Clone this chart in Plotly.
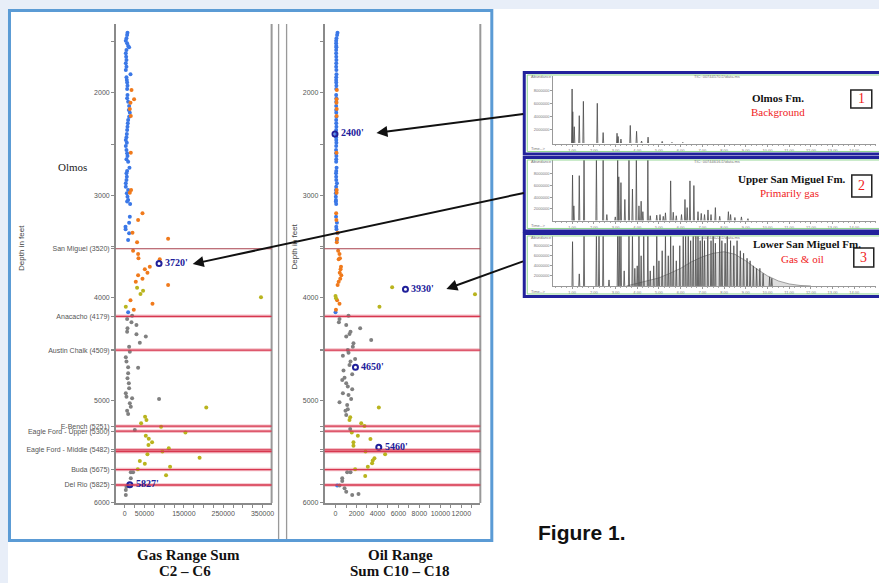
import plotly.graph_objects as go

W, H = 879, 583
# small correction for the slight shrink seen in the captured picture; positions below are reference pixels
SX, SY = 0.998, 0.995
def px(x): return x / SX / W
def py(y): return 1 - y / SY / H

# ---------------- DATA ----------------
# Blue samples (depth ft, gas-range sum C2-C6, oil-range sum C10-C18)
blue_depth = [1412,1434,1467,1490,1516,1542,1555,1581,1613,1646,1678,1711,1743,1776,1818,1847,1873,1899,1929,1961,
              2020,2052,2085,2127,2166,2192,2231,2264,2296,2329,2361,2400,2433,2459,2485,2517,2556,2589,2615,2647,
              2670,2729,2761,2784,2817,2849,2882,2914,2947,2979,3012,3044,3060,3083,3207,3266,3305,3330,3369,3434,
              4140,5831]
blue_gas = [6800,5900,4200,2500,5900,8500,11000,4200,2500,3400,4200,2500,4200,2500,14400,4200,5100,5900,6800,5900,
            6800,5900,8500,11000,10200,12700,11000,8500,7600,6800,5900,5100,4200,2500,5100,2500,4200,5900,6800,4200,
            8500,11800,5900,4200,5100,4200,2500,2500,8500,5100,6800,8500,5900,13500,12700,11000,1700,2000,11000,8400,
            8500,12000]
blue_oil = [190,150,90,60,60,70,80,60,60,70,80,70,60,80,90,70,60,70,80,70,
            60,80,70,60,60,70,80,60,70,80,60,50,60,70,80,60,50,60,80,70,
            60,100,70,50,60,70,130,60,40,30,30,40,30,60,50,130,70,90,180,120,
            0,160]

orange_depth = [1971,2062,2096,2156,2224,2583,2946,2973,3174,3239,3363,3422,3457,3539,3571,3613,3623,3695,3720,3753,
                3779,3812,3841,3873,4022,4056,4114]
orange_gas = [17000,23600,14400,12700,15200,15200,16000,12700,44900,33800,19500,110000,31200,21000,33800,34700,88800,
              63500,50800,57500,33800,44900,27900,110000,14400,70300,22800]
orange_oil = [120,100,90,110,100,90,110,100,60,80,200,150,120,250,380,420,300,520,480,400,
              550,450,300,200,150,380,40]

olive_gas_depth = [3900,3929,3961,3993,4085,5070,5158,5190,5223,5256,5314,5344,5373,5408,5434,5467,5499,5525,5558,
                   5590,5617,5646,5672,5730]
olive_gas = [31200,46400,39800,346000,2500,207000,51500,55000,41400,92100,154000,53300,60900,69300,60100,111700,
             95600,57500,190000,38100,50800,115000,33000,104800]
olive_oil_depth = [3896,3964,3981,4003,4085,5070,5164,5190,5223,5249,5314,5344,5376,5408,5441,5499,5525,5564,5587,
                   5613,5646,5672,5737]
olive_oil = [5400,13300,0,50,4190,4130,1400,1330,2450,2760,1550,2130,3330,1710,1710,2860,4730,3710,3550,3490,3080,
             1870,2830]

gray_gas_depth = [4173,4205,4238,4263,4296,4329,4355,4377,4436,4475,4524,4579,4621,4676,4680,4735,4784,4832,4881,
                  4930,4963,4979,4986,5028,5061,5100,5132,5288,5701,5701,5759,5841,5873,5922]
gray_gas = [18600,5900,16900,29600,6800,5900,29600,53300,38100,11000,12700,2500,4200,8500,33800,8500,6800,10200,
            11000,2500,4200,18600,87000,12700,15200,5900,8500,25400,15200,21000,15200,4200,2500,2500]
gray_oil_depth = [4173,4205,4238,4263,4296,4329,4351,4377,4410,4442,4475,4507,4534,4563,4595,4621,4654,4709,4745,
                  4778,4800,4832,4865,4891,4930,4947,4986,5018,5044,5086,5100,5142,5278,5701,5701,5759,5786,5831,
                  5857,5890,5912,5922]
gray_oil = [1240,380,320,1020,2350,1430,1330,1020,3400,1710,1650,1170,1240,700,1870,1430,1330,760,1590,860,
            640,1020,1170,1590,700,1240,1490,380,1110,1170,950,1020,1400,1110,1430,640,640,380,860,1020,2190,1590]

# highlighted samples
ann_label = ["2400'", "3720'", "3930'", "4650'", "5460'", "5827'"]
ann_plot = ["oil", "gas", "oil", "oil", "oil", "gas"]
ann_depth = [2400, 3665, 3915, 4676, 5457, 5822]
ann_value = [-50, 87000, 6670, 1900, 4125, 12700]

# formation tops
form_names = ["San Miguel (3520)", "Anacacho (4179)", "Austin Chalk (4509)", "E-Bench (5251)",
              "Eagle Ford - Upper (5300)", "Eagle Ford - Middle (5482)", "Eagle Ford - Lower (5500)",
              "Buda (5675)", "Del Rio (5825)"]
form_depth = [3520, 4179, 4509, 5251, 5300, 5482, 5500, 5675, 5825]

depth_ticks = [1500, 2000, 2500, 3000, 3500, 4000, 4500, 5000, 5500, 6000]
gas_ticks = [0, 50000, 150000, 250000, 350000]
oil_ticks = [0, 2000, 4000, 6000, 8000, 10000, 12000]

# chromatograms (retention time in min, abundance in millions)
c1_t = [1.00,1.03,1.10,1.33,1.52,2.16,2.43,3.07,3.12,3.25,3.68,3.97,4.20,4.50,5.15,5.60,6.10]
c1_h = [8.3,4.8,2.5,4.2,6.4,6.1,1.6,1.5,1.0,0.6,2.7,1.8,0.3,0.9,0.25,0.1,0.1]
c2_t = [1.02,1.08,1.33,1.55,2.12,2.43,2.60,2.99,3.10,3.15,3.25,3.43,3.62,3.78,3.96,4.08,4.18,4.26,4.49,4.60,
        4.90,5.05,5.20,5.30,5.54,5.66,5.80,6.04,6.20,6.30,6.43,6.61,6.80,6.95,7.10,7.26,7.40,7.60,7.80,8.20,
        8.30,8.50,8.80,9.10]
c2_h = [7.8,2.5,7.7,10.5,10.5,10.5,1.0,0.6,10.5,7.5,6.5,3.6,10.5,5.4,10.5,2.5,3.3,1.5,10.5,0.8,
        0.9,1.0,0.7,1.3,6.8,1.4,0.8,1.0,3.6,2.2,6.8,6.0,1.5,1.2,1.0,1.8,1.0,2.2,0.7,1.5,
        1.0,0.5,0.6,0.3]
c3_t = [1.02,1.33,1.55,2.12,2.24,2.43,2.70,3.10,3.17,3.25,3.40,3.62,3.78,3.89,4.00,4.08,4.18,4.30,4.49,4.60,
        4.76,4.90,5.00,5.15,5.30,5.43,5.54,5.66,5.80,5.96,6.12,6.23,6.35,6.46,6.58,6.70,6.80,6.90,7.00,7.10,
        7.25,7.40,7.50,7.60,7.80,7.90,8.05,8.15,8.30,8.45,8.60,8.75,8.90,9.06,9.20,9.35,9.50,9.65,9.80,10.10,
        10.20]
c3_h = [8.8,2.4,10.5,10.5,10.5,10.5,1.2,10.5,10.5,10.5,3.0,10.5,10.5,3.5,4.0,10.5,6.0,10.5,10.5,3.0,
        4.0,10.5,5.0,7.0,10.5,6.0,10.5,8.0,5.0,8.0,10.5,10.5,10.5,9.0,10.5,10.5,10.5,9.0,10.5,9.0,
        10.5,9.0,10.5,8.5,10.5,9.0,8.5,10.5,9.0,8.0,9.0,7.0,6.5,5.5,5.0,4.0,3.5,3.5,2.5,1.8,
        1.5]
c3_hump_t = [3.5,4.0,4.5,5.0,5.5,6.0,6.5,7.0,7.5,8.0,8.5,9.0,9.5,10.0,10.5,11.0,11.5,12.0]
c3_hump_h = [0,0.5,1.0,1.6,2.5,3.5,4.8,5.8,6.5,6.8,6.3,5.0,3.4,2.0,1.0,0.4,0.1,0]
chrom_titles = ["Olmos Fm.", "Upper San Miguel Fm.", "Lower San Miguel Fm."]
chrom_sub = ["Background", "Primarily gas", "Gas & oil"]
chrom_files = ["TIC: 00744570.D\\data.ms", "TIC: 00744616.D\\data.ms", "TIC: 00744622.D\\data.ms"]

# ---------------- FIGURE ----------------
BLUE, ORANGE, OLIVE, GRAY = "#3b78e7", "#f07a1c", "#b9b41e", "#808080"
NAVY = "#20209a"
fig = go.Figure()

def pts(xa, ya, xs, ys, color):
    fig.add_trace(go.Scatter(x=xs, y=ys, mode="markers", xaxis=xa, yaxis=ya,
                             marker=dict(color=color, size=4, line=dict(width=0)),
                             showlegend=False, hoverinfo="skip"))

pts("x", "y", blue_gas, blue_depth, BLUE)
pts("x", "y", orange_gas, orange_depth, ORANGE)
pts("x", "y", olive_gas, olive_gas_depth, OLIVE)
pts("x", "y", gray_gas, gray_gas_depth, GRAY)
pts("x2", "y2", blue_oil, blue_depth, BLUE)
pts("x2", "y2", orange_oil, orange_depth, ORANGE)
pts("x2", "y2", olive_oil, olive_oil_depth, OLIVE)
pts("x2", "y2", gray_oil, gray_oil_depth, GRAY)

annotations = []
def note(x, y, text, font, xanchor="center", yanchor="middle", **kw):
    d = dict(x=px(x), y=py(y), xref="paper", yref="paper", text=text, showarrow=False,
             xanchor=xanchor, yanchor=yanchor, font=font)
    d.update(kw)
    annotations.append(d)

for lab, plot, d, v in zip(ann_label, ann_plot, ann_depth, ann_value):
    xa, ya = ("x", "y") if plot == "gas" else ("x2", "y2")
    fig.add_trace(go.Scatter(x=[v], y=[d], mode="markers", xaxis=xa, yaxis=ya,
                             marker=dict(symbol="circle-open", size=5, color=NAVY, line=dict(width=2)),
                             showlegend=False, hoverinfo="skip"))
    annotations.append(dict(x=v, y=d, xref=xa, yref=ya, text="<b>" + lab + "</b>", showarrow=False,
                            xanchor="left", yanchor="middle", xshift=4, yshift=1,
                            font=dict(family="Liberation Serif", size=10, color=NAVY)))

# chromatogram sticks
def sticks(ts, hs, xa, ya):
    xs, ys = [], []
    for t, h in zip(ts, hs):
        xs += [t - 0.025, t, t + 0.025, None]
        ys += [0, h, 0, None]
    fig.add_trace(go.Scatter(x=xs, y=ys, mode="lines", xaxis=xa, yaxis=ya,
                             line=dict(color="#4a4a4a", width=0.8), showlegend=False, hoverinfo="skip"))

fig.add_trace(go.Scatter(x=c3_hump_t, y=c3_hump_h, mode="lines", xaxis="x5", yaxis="y5", fill="tozeroy",
                         fillcolor="rgba(120,120,120,0.25)", line=dict(color="#666", width=0.6),
                         showlegend=False, hoverinfo="skip"))
sticks(c1_t, c1_h, "x3", "y3")
sticks(c2_t, c2_h, "x4", "y4")
sticks(c3_t, c3_h, "x5", "y5")

tickfont = dict(family="Liberation Sans Narrow, Liberation Sans, Arial", size=7, color="#555")
xtickfont = dict(family="Liberation Sans Narrow, Liberation Sans, Arial", size=7, color="#555")
gas_tv = list(range(0, 375000, 25000))
oil_tv = list(range(0, 14000, 1000))
depth_tv = depth_ticks + form_depth
depth_tt_gas = [str(d) if d % 1000 == 0 else "" for d in depth_ticks] + form_names
depth_tt_oil = [str(d) if d % 1000 == 0 else "" for d in depth_ticks] + [""] * len(form_depth)

common_ax = dict(showgrid=False, zeroline=False, showline=True, linecolor="#8a8a8a", linewidth=1.5,
                 ticks="outside", ticklen=3, tickcolor="#8a8a8a")

layout = dict(
    width=W, height=H, margin=dict(l=0, r=0, t=0, b=0),
    paper_bgcolor="white", plot_bgcolor="rgba(0,0,0,0)", showlegend=False,
    xaxis=dict(domain=[px(116), px(272)], range=[-22800, 373000], anchor="y",
               tickmode="array", tickvals=gas_tv, tickangle=0, tickfont=xtickfont,
               ticktext=[str(v) if v in gas_ticks else "" for v in gas_tv], **common_ax),
    yaxis=dict(domain=[py(503), py(24)], range=[6000, 1327], anchor="x", tickfont=tickfont,
               tickmode="array", tickvals=depth_tv, ticktext=depth_tt_gas, **common_ax),
    xaxis2=dict(domain=[px(325), px(481)], range=[-1048, 13810], anchor="y2",
                tickmode="array", tickvals=oil_tv, tickangle=0, tickfont=xtickfont,
                ticktext=[str(v) if v in oil_ticks else "" for v in oil_tv], **common_ax),
    yaxis2=dict(domain=[py(503), py(24)], range=[6000, 1327], anchor="x2", tickfont=tickfont,
                tickmode="array", tickvals=depth_tv, ticktext=depth_tt_oil, **common_ax),
)

chrom_dom = [(76, 144, [-0.15, 10.3]), (160, 221, [-0.1, 10.4]), (236, 286, [0, 9.94])]
tinyfont = dict(family="Liberation Sans", size=4, color="#777")
for i, (top, bot, yr) in enumerate(chrom_dom):
    n = i + 3
    layout["xaxis%d" % n] = dict(domain=[px(554), 1], range=[0.13, 15.0], anchor="y%d" % n,
                                 tickmode="array", tickvals=list(range(1, 15)), tickangle=0,
                                 ticktext=["%d.00" % v for v in range(1, 15)],
                                 showgrid=False, zeroline=False, showline=True, linecolor="#999", linewidth=1,
                                 ticks="outside", ticklen=2, tickcolor="#999", tickfont=tinyfont,
                                 minor=dict(dtick=0.25, ticks="outside", ticklen=1, tickcolor="#aaa"))
    layout["yaxis%d" % n] = dict(domain=[py(bot), py(top)], range=yr, anchor="x%d" % n,
                                 tickmode="array", tickvals=[2, 4, 6, 8],
                                 ticktext=["2000000", "4000000", "6000000", "8000000"],
                                 showgrid=False, zeroline=False, showline=True, linecolor="#999", linewidth=1,
                                 ticks="outside", ticklen=2, tickcolor="#999", tickfont=tinyfont)

shapes = []
def rect(x0, y0, x1, y1, **kw):
    d = dict(type="rect", xref="paper", yref="paper", x0=px(x0), x1=px(x1), y0=py(y1), y1=py(y0))
    d.update(kw)
    shapes.append(d)
def vline(x, y0, y1, color, width):
    shapes.append(dict(type="line", xref="paper", yref="paper", x0=px(x), x1=px(x), y0=py(y1), y1=py(y0),
                       line=dict(color=color, width=width)))

rect(0, -5, W + 10, 9, fillcolor="#e8eef8", line=dict(width=0), layer="below")
rect(-5, -5, 8, H + 10, fillcolor="#e8eef8", line=dict(width=0), layer="below")
rect(9.5, 10.5, 492.5, 540.5, fillcolor="white", line=dict(color="#5b9bd5", width=3), layer="below")
vline(272, 24, 503, "#999", 2)
vline(279, 24, 539, "#999", 1.3)
vline(287, 24, 539, "#999", 1.3)
vline(481, 24, 503, "#999", 2)

for name, d in zip(form_names, form_depth):
    for xr, yr in (("x domain", "y"), ("x2 domain", "y2")):
        if d == 3520:
            shapes.append(dict(type="line", xref=xr, yref=yr, x0=0, x1=1, y0=d, y1=d,
                               line=dict(color="#a8404c", width=1)))
        else:
            shapes.append(dict(type="line", xref=xr, yref=yr, x0=0, x1=1, y0=d, y1=d,
                               line=dict(color="rgba(235,140,155,0.55)", width=3.5), layer="below"))
            shapes.append(dict(type="line", xref=xr, yref=yr, x0=0, x1=1, y0=d, y1=d,
                               line=dict(color="#d7374f", width=1.3)))

panels = [(72.5, 154), (157.5, 231), (233.5, 296.5)]
boxes = [(852, 90, 873, 108), (853, 175, 873, 197), (855, 248, 875, 267)]
titles_y = [(98, 112), (179, 193), (244, 259)]
titles_x = [(779, 779), (793, 791), (808, 804)]
for i, (y0, y1) in enumerate(panels):
    rect(525, y0, 890, y1, line=dict(color="#22229c", width=3))
    rect(528, y0 + 2.5, 890, y1 - 2.5, line=dict(color="#8fd48f", width=1))
    bx0, by0, bx1, by1 = boxes[i]
    rect(bx0, by0, bx1, by1, line=dict(color="#222", width=1.5), fillcolor="white")
    note(titles_x[i][0], titles_y[i][0], "<b>" + chrom_titles[i] + "</b>",
         dict(family="Liberation Serif", size=11, color="#111"))
    note(titles_x[i][1], titles_y[i][1], chrom_sub[i],
         dict(family="Liberation Serif", size=11, color="#f01c1c"))
    note((bx0 + bx1) / 2, (by0 + by1) / 2, str(i + 1),
         dict(family="Liberation Serif", size=14, color="#f01c1c"))
    note(530, y0 + 4, "Abundance", tinyfont, xanchor="left")
    note(718, y0 + 4, chrom_files[i], tinyfont)
    note(530, y1 - 5, "Time-->", tinyfont, xanchor="left")

# arrows: (head x, head y, tail x, tail y) in pixels
arrows = [(377, 133, 525, 114), (193, 264, 525, 193), (447, 289, 525, 261)]
for hx, hy, tx, ty in arrows:
    annotations.append(dict(x=px(hx), y=py(hy), xref="paper", yref="paper", text="", showarrow=True,
                            ax=(tx - hx) / SX, ay=(ty - hy) / SY, arrowhead=2, arrowsize=1.1, arrowwidth=2,
                            arrowcolor="#111", standoff=0))

note(22, 248, "Depth in feet", dict(family="Liberation Sans", size=8, color="#444"), textangle=-90)
note(295, 247, "Depth in feet", dict(family="Liberation Sans", size=8, color="#444"), textangle=-90)
note(73, 167, "Olmos", dict(family="Liberation Serif", size=11, color="#222"))
capfont = dict(family="Liberation Serif", size=15, color="#111")
note(189, 555, "<b>Gas Range Sum</b>", capfont, borderpad=0)
note(401, 555, "<b>Oil Range</b>", capfont, borderpad=0)
annotations.append(dict(x=px(185), y=0, xref="paper", yref="paper", text="<b>C2 – C6</b>", showarrow=False,
                        xanchor="center", yanchor="bottom", borderpad=0, font=capfont))
annotations.append(dict(x=px(401), y=0, xref="paper", yref="paper", text="<b>Sum C10 – C18</b>",
                        showarrow=False, xanchor="center", yanchor="bottom", borderpad=0, font=capfont))
note(583, 533, "<b>Figure 1.</b>", dict(family="Liberation Sans", size=21, color="#111"))

layout["shapes"] = shapes
layout["annotations"] = annotations
fig.update_layout(**layout)

page_fix = "document.body.style.margin='0';document.body.style.padding='0';"
fig.write_html("out.html", config={"displayModeBar": False}, post_script=page_fix)
